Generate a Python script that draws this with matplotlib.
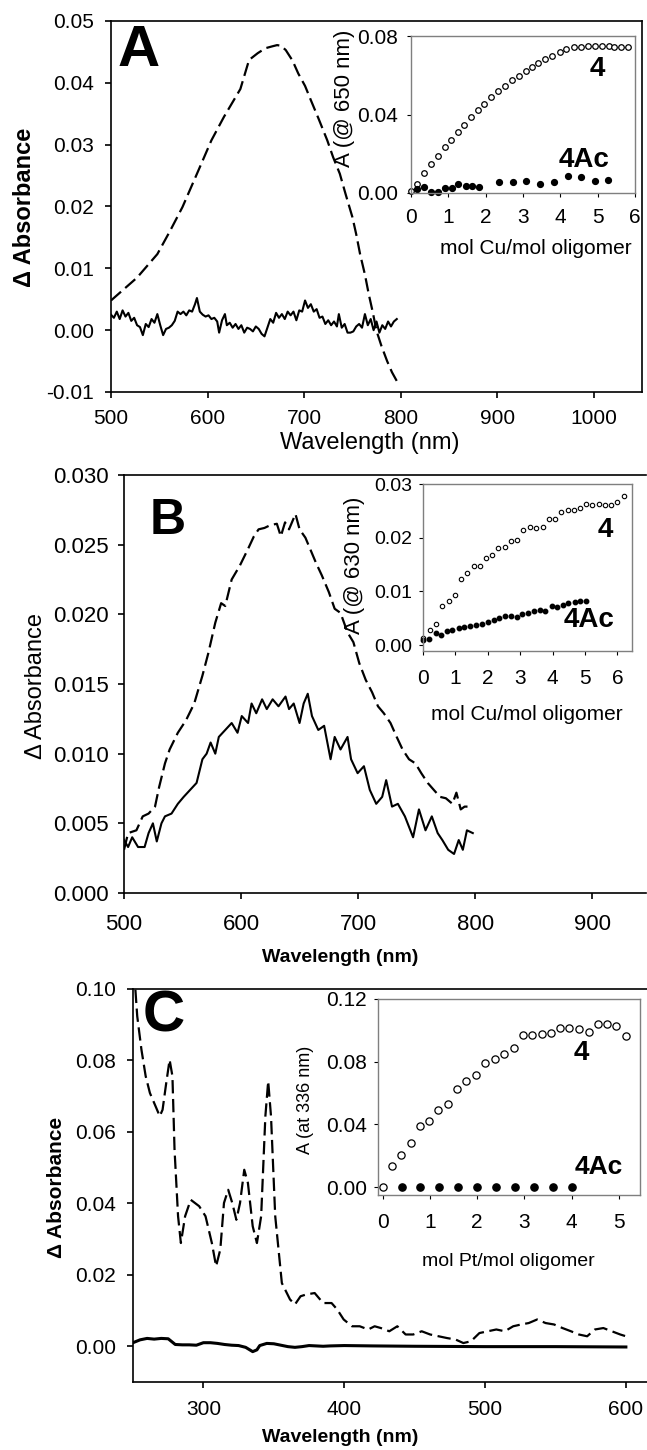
import matplotlib
matplotlib.use('Agg')
import matplotlib.pyplot as plt

plt.rcParams['font.family'] = ['Liberation Sans', 'DejaVu Sans']

# ---------------- data ----------------
# Panel A main: dashed (4) and solid (4Ac) difference spectra
a_dash_wl = [500, 527, 548, 561, 574, 591, 604, 617, 634, 643, 652, 660, 667, 672, 676, 681,
             688, 694, 701, 707, 715, 724, 730, 737, 743, 750, 754, 758, 763, 767, 771, 775,
             780, 786, 791, 797]
a_dash_val = [0.0048, 0.0085, 0.0123, 0.0160, 0.0199, 0.0260, 0.0307, 0.0345, 0.0390, 0.0437,
              0.0448, 0.0456, 0.0459, 0.0461, 0.0460, 0.0453, 0.0436, 0.0415, 0.0395, 0.0372,
              0.0342, 0.0307, 0.0280, 0.0253, 0.0220, 0.0183, 0.0155, 0.0123, 0.0090, 0.0058,
              0.0030, -0.0001, -0.0025, -0.0050, -0.0068, -0.0085]
a_sol_wl = [500, 503, 506, 509, 512, 515, 518, 521, 524, 527, 530, 533, 536, 539, 542, 545, 548,
            551, 554, 557, 560, 563, 566, 569, 572, 575, 578, 581, 584, 587, 589, 592, 595, 598,
            601, 604, 607, 610, 612, 615, 618, 620, 623, 626, 629, 632, 635, 638, 641, 644, 647,
            650, 653, 656, 659, 662, 665, 668, 671, 674, 677, 680, 683, 686, 689, 692, 695, 698,
            701, 704, 707, 710, 713, 716, 719, 722, 725, 728, 731, 734, 736, 739, 742, 745, 748,
            751, 754, 757, 760, 763, 766, 769, 772, 775, 778, 781, 784, 787, 790, 793, 796]
a_sol_val = [0.0025, 0.0020, 0.0030, 0.0018, 0.0032, 0.0022, 0.0028, 0.0015, 0.0020, 0.0008,
             0.0005, -0.0008, 0.0010, 0.0005, 0.0018, 0.0012, 0.0026, 0.0008, -0.0008, 0.0002,
             0.0004, 0.0008, 0.0015, 0.0030, 0.0026, 0.0030, 0.0024, 0.0032, 0.0030, 0.0042,
             0.0052, 0.0030, 0.0025, 0.0022, 0.0024, 0.0018, 0.0020, 0.0014, -0.0004, 0.0016,
             0.0026, 0.0008, 0.0012, 0.0004, 0.0010, 0.0002, 0.0008, -0.0004, 0.0004, 0.0002,
             -0.0002, 0.0006, 0.0002, -0.0006, -0.0010, 0.0004, 0.0018, 0.0012, 0.0028, 0.0020,
             0.0026, 0.0018, 0.0030, 0.0024, 0.0030, 0.0016, 0.0032, 0.0030, 0.0048, 0.0036,
             0.0042, 0.0030, 0.0034, 0.0020, 0.0022, 0.0010, 0.0016, 0.0008, 0.0014, 0.0006,
             0.0026, 0.0004, 0.0010, -0.0004, -0.0004, -0.0002, 0.0006, 0.0010, 0.0004, 0.0026,
             0.0008, 0.0018, 0.0000, 0.0014, -0.0004, 0.0008, 0.0002, 0.0014, 0.0006, 0.0014,
             0.0018]

# Panel A inset (A @ 650 nm vs mol Cu/mol oligomer)
ai_4_x = [0.00, 0.16, 0.36, 0.54, 0.72, 0.90, 1.07, 1.25, 1.42, 1.62, 1.80, 1.96, 2.15, 2.33,
          2.51, 2.70, 2.88, 3.07, 3.25, 3.41, 3.59, 3.78, 3.98, 4.16, 4.37, 4.56, 4.74, 4.92,
          5.11, 5.30, 5.45, 5.62, 5.82]
ai_4_y = [0.0008, 0.0045, 0.0103, 0.0146, 0.0190, 0.0236, 0.0270, 0.0310, 0.0345, 0.0387,
          0.0424, 0.0455, 0.0490, 0.0520, 0.0544, 0.0574, 0.0598, 0.0621, 0.0642, 0.0662,
          0.0683, 0.0700, 0.0718, 0.0732, 0.0742, 0.0745, 0.0747, 0.0747, 0.0747, 0.0747,
          0.0746, 0.0746, 0.0746]
ai_4ac_x = [0.16, 0.36, 0.54, 0.72, 0.90, 1.09, 1.27, 1.46, 1.63, 1.82, 2.36, 2.73, 3.09,
            3.46, 3.82, 4.20, 4.55, 4.93, 5.29]
ai_4ac_y = [0.0019, 0.0030, 0.0007, 0.0005, 0.0025, 0.0025, 0.0044, 0.0036, 0.0036, 0.0030,
            0.0056, 0.0056, 0.0063, 0.0046, 0.0058, 0.0087, 0.0083, 0.0061, 0.0065]

# Panel B main
b_dash_wl = [500, 503.5, 510.6, 516, 521, 526.5, 530, 535, 539, 546, 553, 560, 567, 572, 578,
             583, 586.5, 592, 599, 606, 611, 615, 620, 625, 630.6, 634, 637.6, 641, 646.5, 650,
             655, 659, 664, 669, 675, 680, 685, 691, 696, 701, 706.5, 712, 717, 722, 727.7, 733,
             738, 743.5, 749, 754, 759.5, 764.7, 770, 775, 780.6, 784, 787.7, 791, 796.5]
b_dash_val = [0.0031, 0.0043, 0.0045, 0.0055, 0.0057, 0.0062, 0.0076, 0.0093, 0.0103, 0.0115,
              0.0124, 0.0136, 0.0156, 0.0172, 0.0194, 0.0208, 0.0206, 0.0225, 0.0235, 0.0247,
              0.0256, 0.0261, 0.0262, 0.0264, 0.0265, 0.0256, 0.0266, 0.0261, 0.0272, 0.0261,
              0.0255, 0.0247, 0.0237, 0.0228, 0.0216, 0.0204, 0.0201, 0.0187, 0.0180, 0.0165,
              0.0153, 0.0144, 0.0134, 0.0129, 0.0122, 0.0112, 0.0103, 0.0096, 0.0093, 0.0086,
              0.0079, 0.0074, 0.0069, 0.0068, 0.0064, 0.0072, 0.0060, 0.0062, 0.0062]
b_sol_wl = [500, 503.5, 507, 512, 517.6, 521, 524.7, 528, 532, 535, 540.6, 546, 551, 556.5, 562,
            567, 570.6, 574, 578, 581, 586.5, 592, 597, 600.6, 606, 609, 613, 618, 622, 627, 632,
            638, 641, 645, 650, 653.5, 657, 660.6, 666, 671, 676.5, 680, 685, 691, 694, 699.6,
            705, 710, 715.5, 720.6, 724, 729, 734, 740, 747, 752, 757.6, 763, 768, 772, 777, 782,
            786, 789.5, 793, 798]
b_sol_val = [0.0038, 0.0033, 0.0040, 0.0033, 0.0033, 0.0043, 0.0050, 0.0037, 0.0050, 0.0055,
             0.0057, 0.0064, 0.0069, 0.0074, 0.0079, 0.0096, 0.0100, 0.0108, 0.0100, 0.0112,
             0.0117, 0.0122, 0.0115, 0.0127, 0.0122, 0.0136, 0.0129, 0.0139, 0.0132, 0.0139,
             0.0134, 0.0141, 0.0132, 0.0136, 0.0122, 0.0136, 0.0143, 0.0127, 0.0117, 0.0120,
             0.0096, 0.0112, 0.0103, 0.0112, 0.0096, 0.0086, 0.0091, 0.0074, 0.0064, 0.0069,
             0.0081, 0.0062, 0.0064, 0.0055, 0.0040, 0.0060, 0.0045, 0.0055, 0.0043, 0.0038,
             0.0031, 0.0028, 0.0038, 0.0031, 0.0045, 0.0043]

# Panel B inset (A @ 630 nm)
bi_4_x = [0.00, 0.21, 0.40, 0.59, 0.79, 0.98, 1.17, 1.36, 1.56, 1.75, 1.94, 2.14, 2.33, 2.53,
          2.72, 2.91, 3.10, 3.30, 3.49, 3.69, 3.88, 4.08, 4.27, 4.46, 4.66, 4.85, 5.04, 5.23,
          5.43, 5.62, 5.81, 6.00, 6.19]
bi_4_y = [0.0014, 0.0029, 0.0039, 0.0073, 0.0083, 0.0094, 0.0123, 0.0134, 0.0148, 0.0148,
          0.0162, 0.0168, 0.0180, 0.0183, 0.0193, 0.0196, 0.0214, 0.0220, 0.0218, 0.0220,
          0.0235, 0.0235, 0.0247, 0.0251, 0.0251, 0.0256, 0.0263, 0.0261, 0.0262, 0.0260,
          0.0260, 0.0266, 0.0278]
bi_4ac_x = [0.00, 0.20, 0.39, 0.55, 0.74, 0.91, 1.10, 1.27, 1.46, 1.64, 1.82, 2.00, 2.18, 2.35,
            2.54, 2.71, 2.90, 3.07, 3.25, 3.43, 3.61, 3.78, 3.97, 4.14, 4.32, 4.49, 4.68, 4.85,
            5.04]
bi_4ac_y = [0.0010, 0.0011, 0.0022, 0.0019, 0.0026, 0.0029, 0.0032, 0.0034, 0.0035, 0.0037,
            0.0040, 0.0043, 0.0046, 0.0050, 0.0054, 0.0055, 0.0053, 0.0057, 0.0060, 0.0063,
            0.0065, 0.0063, 0.0072, 0.0071, 0.0074, 0.0078, 0.0080, 0.0082, 0.0082]

# Panel C main
c_dash_wl = [251.7, 253, 256, 259, 262, 266, 269, 271, 273.6, 276, 278, 279.5, 282, 284, 287,
             291, 297, 301.5, 306, 309, 312, 314.6, 317.6, 320.5, 323.4, 326, 329, 331.6, 335,
             338, 341, 344, 346, 348, 351, 355.7, 361.5, 365, 369, 373, 379, 385, 391, 395,
             399.6, 405.5, 411, 417, 421.6, 426, 432, 437.7, 443.6, 449, 455, 461, 467, 473, 479,
             484.6, 490, 496, 502, 508, 514, 520, 525.6, 531, 537, 543, 549, 555, 561, 566.6,
             572.5, 578, 584, 590, 596, 600]
c_dash_val = [0.0998, 0.0924, 0.0830, 0.0756, 0.0709, 0.0672, 0.0644, 0.0662, 0.0737, 0.0802,
              0.0756, 0.0550, 0.0364, 0.0289, 0.0364, 0.0410, 0.0392, 0.0364, 0.0289, 0.0224,
              0.0271, 0.0401, 0.0438, 0.0401, 0.0354, 0.0401, 0.0494, 0.0457, 0.0336, 0.0289,
              0.0364, 0.0644, 0.0742, 0.0644, 0.0364, 0.0177, 0.0131, 0.0117, 0.0140, 0.0145,
              0.0149, 0.0121, 0.0121, 0.0103, 0.0075, 0.0056, 0.0056, 0.0047, 0.0056, 0.0051,
              0.0042, 0.0056, 0.0033, 0.0033, 0.0042, 0.0033, 0.0028, 0.0023, 0.0019, 0.0009,
              0.0014, 0.0037, 0.0042, 0.0047, 0.0042, 0.0056, 0.0061, 0.0065, 0.0075, 0.0065,
              0.0061, 0.0051, 0.0042, 0.0033, 0.0028, 0.0047, 0.0051, 0.0042, 0.0033, 0.0028]
c_sol_wl = [250, 255, 260, 265, 270, 275, 280, 285, 290, 295, 300, 305, 310, 315, 320, 325, 330,
            335, 338, 340, 345, 350, 355, 360, 365, 370, 375, 380, 385, 390, 400, 420, 450, 500,
            550, 600]
c_sol_val = [0.0010, 0.0018, 0.0022, 0.0020, 0.0022, 0.0021, 0.0005, 0.0004, 0.0004, 0.0003,
             0.0010, 0.0010, 0.0008, 0.0005, 0.0003, 0.0002, -0.0003, -0.0015, -0.0010, 0.0002,
             0.0008, 0.0007, 0.0003, -0.0001, -0.0003, -0.0001, 0.0002, 0.0001, 0.0000, 0.0001,
             0.0002, 0.0001, 0.0000, -0.0001, -0.0001, -0.0002]

# Panel C inset (A at 336 nm vs mol Pt/mol oligomer)
ci_4_x = [0.00, 0.19, 0.38, 0.59, 0.78, 0.98, 1.18, 1.38, 1.58, 1.77, 1.98, 2.17, 2.38, 2.57,
          2.78, 2.97, 3.17, 3.37, 3.57, 3.75, 3.95, 4.15, 4.36, 4.55, 4.75, 4.95, 5.16]
ci_4_y = [0.0000, 0.0137, 0.0205, 0.0282, 0.0393, 0.0421, 0.0495, 0.0532, 0.0628, 0.0677,
          0.0713, 0.0794, 0.0816, 0.0848, 0.0890, 0.0969, 0.0969, 0.0976, 0.0986, 0.1012,
          0.1012, 0.1008, 0.0991, 0.1042, 0.1038, 0.1029, 0.0965]
ci_4ac_x = [0.4, 0.8, 1.2, 1.6, 2.0, 2.4, 2.8, 3.2, 3.6, 4.0]
ci_4ac_y = [0.0, 0.0, 0.0, 0.0, 0.0, 0.0, 0.0, 0.0, 0.0, 0.0]

a_xticks = [500, 600, 700, 800, 900, 1000]
a_yticks = [-0.01, 0.00, 0.01, 0.02, 0.03, 0.04, 0.05]
b_xticks = [500, 600, 700, 800, 900]
b_yticks = [0.000, 0.005, 0.010, 0.015, 0.020, 0.025, 0.030]
c_xticks = [300, 400, 500, 600]
c_yticks = [0.00, 0.02, 0.04, 0.06, 0.08, 0.10]

# ---------------- figure ----------------
W, H = 647, 1450
fig = plt.figure(figsize=(W / 100, H / 100), dpi=100)


def box(l, r, t, b):
    return [l / W, 1 - b / H, (r - l) / W, (b - t) / H]


def ftxt(x, y, s, **kw):
    fig.text(x / W, 1 - y / H, s, ha='center', va='center', **kw)


DASH = (0, (6, 2.5))


def style_main(ax, xt, yt, fmt, right=True, size=15, xpad=8, ypad=8):
    for s in ax.spines.values():
        s.set_linewidth(1.2)
    ax.spines['right'].set_visible(right)
    ax.set_xticks(xt)
    ax.set_yticks(yt)
    ax.set_yticklabels([fmt % v for v in yt])
    ax.tick_params(direction='out', length=4, width=1.2, labelsize=size)
    ax.tick_params(axis='x', pad=xpad)
    ax.tick_params(axis='y', pad=ypad)


def style_inset(ax, xt, yt, fmt, xls=15, yls=15, xpad=8, ypad=5):
    for s in ax.spines.values():
        s.set_linewidth(1.0)
        s.set_color('#7f7f7f')
    ax.set_xticks(xt)
    ax.set_yticks(yt)
    ax.set_yticklabels([fmt % v for v in yt])
    ax.tick_params(direction='out', length=3, width=0.8)
    ax.tick_params(axis='x', labelsize=xls, pad=xpad)
    ax.tick_params(axis='y', labelsize=yls, pad=ypad)


# ---- Panel A ----
axA = fig.add_axes(box(111, 642, 21, 392))
axA.plot(a_dash_wl, a_dash_val, color='black', lw=1.6, ls=DASH)
axA.plot(a_sol_wl, a_sol_val, color='black', lw=1.5)
axA.set_xlim(500, 1050)
axA.set_ylim(-0.01, 0.05)
style_main(axA, a_xticks, a_yticks, '%.2f', size=15, xpad=8, ypad=8)
ftxt(139, 51, 'A', fontsize=42, fontweight='bold')
ftxt(25, 207, 'Δ Absorbance', fontsize=17, fontweight='bold', rotation=90)
ftxt(370, 443, 'Wavelength (nm)', fontsize=17)

axAi = fig.add_axes(box(411, 635, 36, 193))
axAi.plot(ai_4_x, ai_4_y, 'o', mfc='white', mec='black', ms=4.0, mew=0.9, clip_on=False)
axAi.plot(ai_4ac_x, ai_4ac_y, 'o', color='black', ms=4.2, clip_on=False)
axAi.set_xlim(0, 6)
axAi.set_ylim(0, 0.08)
style_inset(axAi, [0, 1, 2, 3, 4, 5, 6], [0.00, 0.04, 0.08], '%.2f', xls=15, yls=15,
            xpad=8, ypad=6)
ftxt(344, 98, 'A (@ 650 nm)', fontsize=16, rotation=90)
ftxt(536, 248, 'mol Cu/mol oligomer', fontsize=15)
ftxt(597, 69, '4', fontsize=20, fontweight='bold')
ftxt(584, 160, '4Ac', fontsize=20, fontweight='bold')

# ---- Panel B ----
axB = fig.add_axes(box(124, 646, 475, 893))
axB.plot(b_dash_wl, b_dash_val, color='black', lw=1.6, ls=DASH)
axB.plot(b_sol_wl, b_sol_val, color='black', lw=1.5)
axB.set_xlim(500, 946)
axB.set_ylim(0, 0.030)
style_main(axB, b_xticks, b_yticks, '%.3f', right=False, size=16, xpad=11, ypad=7)
ftxt(168, 521, 'B', fontsize=36, fontweight='bold')
ftxt(36, 686, 'Δ Absorbance', fontsize=17, rotation=90)
ftxt(340, 957, 'Wavelength (nm)', fontsize=14, fontweight='bold')

axBi = fig.add_axes(box(423, 632, 484, 651))
axBi.plot(bi_4_x, bi_4_y, 'o', mfc='white', mec='black', ms=3.2, mew=0.8, clip_on=False)
axBi.plot(bi_4ac_x, bi_4ac_y, 'o', color='black', ms=3.2, clip_on=False)
axBi.set_xlim(0, 6.45)
axBi.set_ylim(-0.0011, 0.030)
style_inset(axBi, [0, 1, 2, 3, 4, 5, 6], [0.00, 0.01, 0.02, 0.03], '%.2f', xls=15, yls=14,
            xpad=10, ypad=5)
ftxt(354, 565, 'A (@ 630 nm)', fontsize=16, rotation=90)
ftxt(527, 714, 'mol Cu/mol oligomer', fontsize=15)
ftxt(605, 530, '4', fontsize=20, fontweight='bold')
ftxt(589, 620, '4Ac', fontsize=20, fontweight='bold')

# ---- Panel C ----
axC = fig.add_axes(box(133, 647, 989, 1382))
axC.plot(c_dash_wl, c_dash_val, color='black', lw=1.6, ls=DASH)
axC.plot(c_sol_wl, c_sol_val, color='black', lw=2.2)
axC.set_xlim(250, 615)
axC.set_ylim(-0.01, 0.10)
style_main(axC, c_xticks, c_yticks, '%.2f', right=False, size=15, xpad=9, ypad=8)
ftxt(164, 1016, 'C', fontsize=42, fontweight='bold')
ftxt(56, 1187, 'Δ Absorbance', fontsize=15, fontweight='bold', rotation=90)
ftxt(340, 1437, 'Wavelength (nm)', fontsize=14, fontweight='bold')

axCi = fig.add_axes(box(378, 640, 999, 1195))
axCi.plot(ci_4_x, ci_4_y, 'o', mfc='white', mec='black', ms=5.2, mew=0.9, clip_on=False)
axCi.plot(ci_4ac_x, ci_4ac_y, 'o', color='black', ms=5.2, clip_on=False)
axCi.set_xlim(-0.1, 5.45)
axCi.set_ylim(-0.005, 0.12)
style_inset(axCi, [0, 1, 2, 3, 4, 5], [0.00, 0.04, 0.08, 0.12], '%.2f', xls=15, yls=15,
            xpad=10, ypad=5)
ftxt(306, 1100, 'A (at 336 nm)', fontsize=13, rotation=90)
ftxt(508, 1262, 'mol Pt/mol oligomer', fontsize=14)
ftxt(581, 1053, '4', fontsize=20, fontweight='bold')
ftxt(599, 1167, '4Ac', fontsize=19, fontweight='bold')

fig.savefig('out.png', dpi=100)
